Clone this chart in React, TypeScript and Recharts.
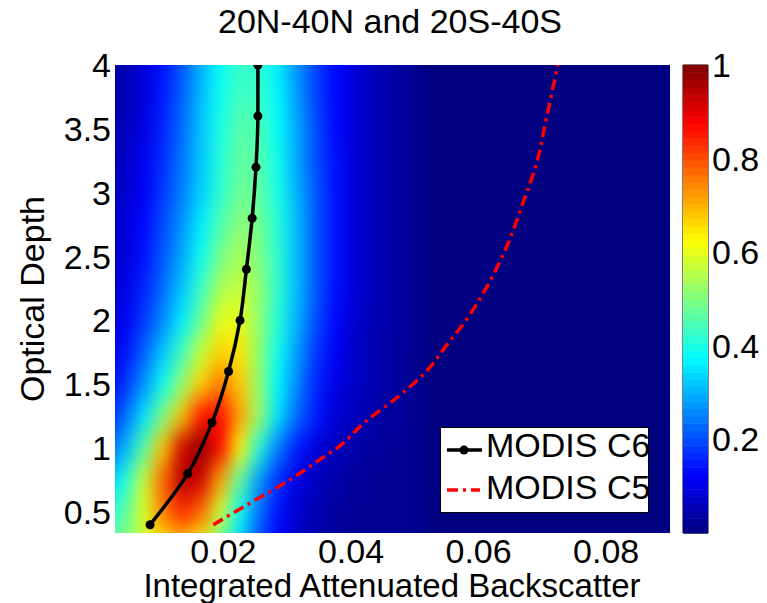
import React from 'react'
import * as Recharts from 'recharts'
import {
  ComposedChart,
  Scatter,
  XAxis,
  YAxis,
  CartesianGrid,
  ReferenceArea,
  Legend
} from 'recharts'

const FONT = '"Liberation Sans", Arial, Helvetica, sans-serif'

// axes
const X_MIN = 0.003
const X_MAX = 0.09
const Y_MIN = 0.335
const Y_MAX = 4
const X_TICKS = [0.02, 0.04, 0.06, 0.08]
const Y_TICKS = [0.5, 1, 1.5, 2, 2.5, 3, 3.5, 4]
const CB_TICKS = [0.2, 0.4, 0.6, 0.8, 1]

// MODIS C6 curve
const C6_OD = [0.4, 0.8, 1.2, 1.6, 2.0, 2.4, 2.8, 3.2, 3.6, 4.0]
const C6_IAB = [0.0085, 0.0144, 0.0182, 0.0208, 0.0226, 0.0236, 0.0245, 0.0251, 0.0254, 0.0254]

// MODIS C5 curve
const C5_OD = [0.4, 0.5, 0.6, 0.75, 0.9, 1.0, 1.2, 1.4, 1.6, 1.8, 2.0, 2.3, 2.6, 2.9, 3.2, 3.6, 4.0]
const C5_IAB = [0.0184, 0.0218, 0.0252, 0.0304, 0.0348, 0.0378, 0.0421, 0.0473, 0.0518, 0.0549, 0.058, 0.0617, 0.0646, 0.0668, 0.0689, 0.0707, 0.0724]

// normalized density grid (column centers, row centers, values row by row)
const HEAT_X = [0.0015, 0.0045, 0.0075, 0.0105, 0.0135, 0.0165, 0.0195, 0.0225, 0.0255, 0.0285, 0.0315, 0.0345, 0.0375, 0.0405, 0.0435, 0.0465, 0.0495]
const HEAT_Y = [4.25, 4, 3.75, 3.5, 3.25, 3, 2.75, 2.5, 2.25, 2, 1.75, 1.5, 1.25, 1, 0.75, 0.5, 0.25]
const HEAT_V = [
  [0.02, 0.04, 0.08, 0.13, 0.2, 0.29, 0.37, 0.42, 0.41, 0.35, 0.27, 0.19, 0.13, 0.09, 0.06, 0.04, 0.02],
  [0.02, 0.05, 0.09, 0.14, 0.21, 0.3, 0.38, 0.43, 0.42, 0.36, 0.27, 0.19, 0.13, 0.09, 0.06, 0.04, 0.02],
  [0.02, 0.05, 0.09, 0.15, 0.22, 0.31, 0.39, 0.44, 0.43, 0.37, 0.28, 0.19, 0.13, 0.09, 0.06, 0.04, 0.02],
  [0.03, 0.06, 0.1, 0.16, 0.23, 0.32, 0.4, 0.46, 0.45, 0.38, 0.29, 0.2, 0.13, 0.09, 0.06, 0.04, 0.02],
  [0.03, 0.07, 0.11, 0.17, 0.24, 0.32, 0.41, 0.47, 0.46, 0.39, 0.29, 0.2, 0.14, 0.09, 0.06, 0.04, 0.02],
  [0.04, 0.08, 0.12, 0.18, 0.25, 0.33, 0.42, 0.48, 0.47, 0.4, 0.3, 0.21, 0.14, 0.09, 0.06, 0.04, 0.02],
  [0.05, 0.09, 0.13, 0.2, 0.27, 0.36, 0.45, 0.51, 0.49, 0.41, 0.31, 0.21, 0.14, 0.09, 0.06, 0.04, 0.02],
  [0.05, 0.09, 0.14, 0.21, 0.29, 0.39, 0.49, 0.54, 0.5, 0.42, 0.31, 0.21, 0.14, 0.09, 0.06, 0.04, 0.02],
  [0.06, 0.1, 0.16, 0.23, 0.32, 0.43, 0.54, 0.57, 0.52, 0.42, 0.31, 0.21, 0.14, 0.09, 0.06, 0.04, 0.02],
  [0.07, 0.11, 0.18, 0.26, 0.36, 0.48, 0.6, 0.6, 0.52, 0.41, 0.3, 0.2, 0.13, 0.08, 0.05, 0.04, 0.02],
  [0.09, 0.14, 0.22, 0.32, 0.44, 0.57, 0.67, 0.65, 0.52, 0.39, 0.28, 0.18, 0.12, 0.07, 0.05, 0.03, 0.02],
  [0.1, 0.17, 0.27, 0.39, 0.52, 0.67, 0.76, 0.68, 0.52, 0.37, 0.26, 0.16, 0.1, 0.07, 0.05, 0.03, 0.02],
  [0.14, 0.23, 0.35, 0.5, 0.68, 0.86, 0.87, 0.72, 0.53, 0.35, 0.23, 0.15, 0.09, 0.06, 0.04, 0.03, 0.02],
  [0.2, 0.3, 0.46, 0.68, 0.92, 0.99, 0.87, 0.63, 0.41, 0.25, 0.15, 0.09, 0.06, 0.04, 0.03, 0.02, 0.02],
  [0.31, 0.4, 0.57, 0.78, 0.95, 0.92, 0.71, 0.47, 0.28, 0.17, 0.1, 0.06, 0.04, 0.03, 0.02, 0.02, 0.02],
  [0.4, 0.46, 0.59, 0.75, 0.84, 0.77, 0.58, 0.39, 0.24, 0.14, 0.08, 0.05, 0.03, 0.02, 0.02, 0.02, 0.02],
  [0.45, 0.5, 0.57, 0.65, 0.68, 0.61, 0.47, 0.33, 0.2, 0.12, 0.07, 0.04, 0.03, 0.02, 0.02, 0.02, 0.02]
]

const CB_LEVELS = 64

const clamp = (v: number) => Math.max(0, Math.min(1, v))

// matlab jet colormap
function jet(v: number) {
  const t = clamp(v)
  const r = clamp(1.5 - Math.abs(4 * t - 3))
  const g = clamp(1.5 - Math.abs(4 * t - 2))
  const b = clamp(1.5 - Math.abs(4 * t - 1))
  return `rgb(${Math.round(r * 255)},${Math.round(g * 255)},${Math.round(b * 255)})`
}

const heatCells = HEAT_Y.flatMap((y, i) => HEAT_X.map((x, j) => ({ x, y, v: HEAT_V[i][j] })))
const c6Data = C6_OD.map((y, i) => ({ x: C6_IAB[i], y }))
const c5Data = C5_OD.map((y, i) => ({ x: C5_IAB[i], y }))
const cbBands = Array.from({ length: CB_LEVELS }, (_, i) => ({ x: 0.5, y: (i + 0.5) / CB_LEVELS }))

const usePlot: () => any = (Recharts as any).usePlotArea ?? (() => null)

function HeatCell(props: any) {
  const plot = usePlot()
  const { cx, cy, payload } = props
  if (!plot || cx == null || cy == null) return null
  const w = (plot.width * (HEAT_X[1] - HEAT_X[0])) / (X_MAX - X_MIN)
  const h = (plot.height * (HEAT_Y[0] - HEAT_Y[1])) / (Y_MAX - Y_MIN)
  return <rect x={cx - w / 2} y={cy - h / 2} width={w + 0.6} height={h + 0.6} fill={jet(payload.v)} />
}

function BandCell(props: any) {
  const plot = usePlot()
  const { cy, payload } = props
  if (!plot || cy == null) return null
  const h = plot.height / CB_LEVELS
  return <rect x={plot.x} y={cy - h / 2} width={plot.width} height={h + 0.5} fill={jet(payload.y)} />
}

function NoDot() {
  return null
}

function LegendBox() {
  return (
    <svg width={210} height={87} style={{ display: 'block', overflow: 'visible' }}>
      <rect x={0.5} y={0.5} width={208} height={85} fill="#fff" stroke="#000" strokeWidth={1} />
      <line x1={7} y1={23} x2={42} y2={23} stroke="#000" strokeWidth={3.5} />
      <circle cx={24} cy={23} r={4.5} fill="#000" />
      <text x={46} y={30} fontSize={34} fontFamily={FONT} fill="#000">MODIS C6</text>
      <line x1={7} y1={63} x2={40} y2={63} stroke="#ff0000" strokeWidth={3.5} strokeDasharray="11 5 3 5" />
      <text x={46} y={72} fontSize={34} fontFamily={FONT} fill="#000">MODIS C5</text>
    </svg>
  )
}

const tickStyle = { fill: '#000', fontSize: 34, fontFamily: FONT }

export default function App() {
  return (
    <div style={{ position: 'absolute', left: 0, top: 0, width: 767, height: 603, background: '#fff', fontFamily: FONT }}>
      <style>{`body{margin:0} .heatmap{filter:url(#heatBlur)}`}</style>
      <svg width={0} height={0} style={{ position: 'absolute' }}>
        <defs>
          <filter id="heatBlur" filterUnits="userSpaceOnUse" x={0} y={0} width={767} height={603} colorInterpolationFilters="sRGB">
            <feGaussianBlur stdDeviation="8 12" />
          </filter>
        </defs>
      </svg>

      <div style={{ position: 'absolute', left: 0, top: 0 }}>
        <ComposedChart width={767} height={603} margin={{ top: 65, right: 97, bottom: 0, left: 0 }}>
          <CartesianGrid horizontal={false} vertical={false} fill={jet(0)} fillOpacity={1} />
          <XAxis
            type="number"
            dataKey="x"
            domain={[X_MIN, X_MAX]}
            allowDataOverflow
            ticks={X_TICKS}
            tickFormatter={(v) => String(v)}
            height={70}
            tickSize={0}
            tickMargin={6}
            axisLine={false}
            tick={tickStyle}
          />
          <YAxis
            type="number"
            dataKey="y"
            domain={[Y_MIN, Y_MAX]}
            allowDataOverflow
            ticks={Y_TICKS}
            tickFormatter={(v) => String(v)}
            width={115}
            tickSize={0}
            tickMargin={4}
            axisLine={false}
            tick={tickStyle}
          />
          <Scatter
            data={heatCells}
            shape={<HeatCell />}
            className="heatmap"
            legendType="none"
            isAnimationActive={false}
          />
          <Scatter
            name="MODIS C5"
            data={c5Data}
            fill="#ff0000"
            line={{ stroke: '#ff0000', strokeWidth: 3.5, strokeDasharray: '11 5 3 5' }}
            lineJointType="monotoneY"
            shape={<NoDot />}
            isAnimationActive={false}
          />
          <Scatter
            name="MODIS C6"
            data={c6Data}
            fill="#000"
            line={{ stroke: '#000', strokeWidth: 3.5 }}
            lineJointType="monotoneY"
            isAnimationActive={false}
          />
          <Legend
            layout="vertical"
            align="center"
            verticalAlign="middle"
            content={() => <LegendBox />}
            wrapperStyle={{ left: 440, top: 427, width: 210, height: 87 }}
          />
        </ComposedChart>
      </div>

      <div style={{ position: 'absolute', left: 0, top: 0 }}>
        <ComposedChart width={767} height={603} margin={{ top: 65, right: 0, bottom: 70, left: 683 }}>
          <XAxis type="number" dataKey="x" domain={[0, 1]} hide />
          <YAxis
            type="number"
            dataKey="y"
            orientation="right"
            domain={[0, 1]}
            ticks={CB_TICKS}
            tickFormatter={(v) => String(v)}
            width={59}
            tickSize={0}
            tickMargin={4}
            axisLine={false}
            tick={tickStyle}
          />
          <Scatter data={cbBands} shape={<BandCell />} legendType="none" isAnimationActive={false} />
          <ReferenceArea x1={0} x2={1} y1={0} y2={1} fill="none" stroke="#000" strokeWidth={1} />
        </ComposedChart>
      </div>

      <svg width={767} height={603} style={{ position: 'absolute', left: 0, top: 0, pointerEvents: 'none' }}>
        <text x={390} y={33} textAnchor="middle" fontSize={34} fontFamily={FONT} fill="#000">
          20N-40N and 20S-40S
        </text>
        <text x={392} y={597} textAnchor="middle" fontSize={33} fontFamily={FONT} fill="#000">
          Integrated Attenuated Backscatter
        </text>
        <text x={44} y={299} transform="rotate(-90, 44, 299)" textAnchor="middle" fontSize={34} fontFamily={FONT} fill="#000">
          Optical Depth
        </text>
      </svg>
    </div>
  )
}
